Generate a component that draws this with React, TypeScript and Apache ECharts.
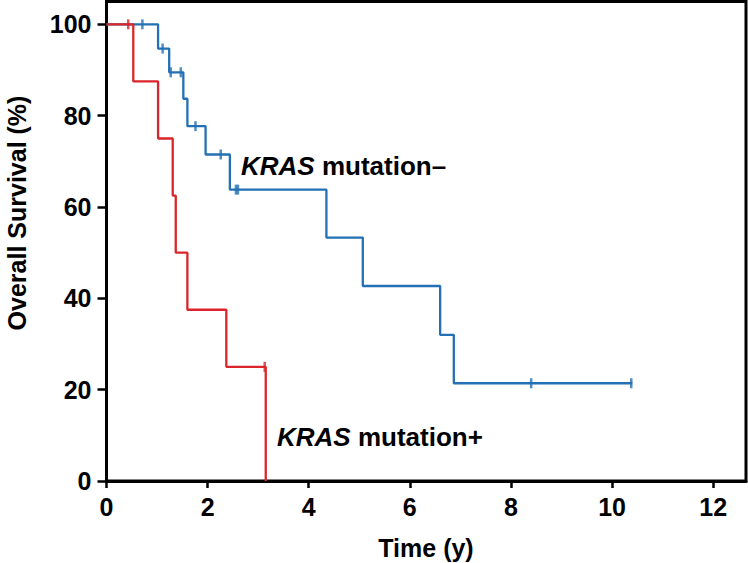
import React, { useEffect, useRef } from "react";
import * as echarts from "echarts";

// KRAS mutation− (blue) Kaplan–Meier steps
const blueTimes = [0, 1.02, 1.24, 1.52, 1.6, 1.96, 2.44, 4.35, 5.07, 6.6, 6.87, 10.4];
const blueSurvival = [100, 94.7, 89.5, 83.7, 77.7, 71.5, 63.8, 53.3, 42.7, 32.0, 21.4, 21.4];
const blueCensorTimes = [0.71, 1.11, 1.27, 1.47, 1.76, 2.26, 2.56, 2.6, 8.4, 10.38];
const blueCensorSurvival = [100, 94.7, 89.5, 89.5, 77.7, 71.5, 63.8, 63.8, 21.4, 21.4];

// KRAS mutation+ (red)
const redTimes = [0, 0.53, 1.02, 1.31, 1.37, 1.6, 2.37, 3.15];
const redSurvival = [100, 87.5, 75, 62.5, 50, 37.5, 25, 0];
const redCensorTimes = [0.43, 3.13];
const redCensorSurvival = [100, 25];

const xTicks = [0, 2, 4, 6, 8, 10, 12];
const yTicks = [0, 20, 40, 60, 80, 100];

const BLUE = "#2370b4";
const RED = "#d9252b";
const FONT = "Liberation Sans";

export default function App() {
  const ref = useRef<HTMLDivElement>(null);
  useEffect(() => {
    if (!ref.current) return;
    const chart = echarts.init(ref.current, null, { renderer: "svg" });
    const pairs = (xs: number[], ys: number[]) => xs.map((x, i) => [x, ys[i]]);
    const richStyles = {
      i: { fontFamily: FONT, fontSize: 26, fontWeight: "bold", fontStyle: "italic", fill: "#000" },
      b: { fontFamily: FONT, fontSize: 26, fontWeight: "bold", fill: "#000" },
    };
    chart.setOption({
      animation: false,
      backgroundColor: "#ffffff",
      grid: {
        left: 106.5,
        right: 2,
        top: 1.5,
        bottom: 82,
        show: true,
        borderColor: "#000",
        borderWidth: 3,
        outerBoundsMode: "none",
      },
      xAxis: {
        type: "value",
        min: 0,
        max: 12.65,
        interval: 2,
        splitLine: { show: false },
        axisLine: { show: true, lineStyle: { color: "#000", width: 3 } },
        axisTick: {
          show: true,
          length: 7,
          lineStyle: { color: "#000", width: 2.5 },
          customValues: xTicks,
        },
        axisLabel: {
          color: "#000",
          fontFamily: FONT,
          fontWeight: "bold",
          fontSize: 25,
          margin: 13,
          customValues: xTicks,
        },
      },
      yAxis: {
        type: "value",
        min: 0,
        max: 105,
        interval: 20,
        splitLine: { show: false },
        axisLine: { show: true, lineStyle: { color: "#000", width: 3 } },
        axisTick: {
          show: true,
          length: 9,
          lineStyle: { color: "#000", width: 2.5 },
          customValues: yTicks,
        },
        axisLabel: {
          color: "#000",
          fontFamily: FONT,
          fontWeight: "bold",
          fontSize: 25,
          margin: 15,
          customValues: yTicks,
        },
      },
      series: [
        {
          type: "line",
          step: "end",
          data: pairs(blueTimes, blueSurvival),
          showSymbol: false,
          lineStyle: { color: BLUE, width: 2.3 },
          z: 2,
        },
        {
          type: "scatter",
          data: pairs(blueCensorTimes, blueCensorSurvival),
          symbol: "rect",
          symbolSize: [2.5, 10],
          itemStyle: { color: BLUE },
          z: 3,
        },
        {
          type: "line",
          step: "end",
          data: pairs(redTimes, redSurvival),
          showSymbol: false,
          lineStyle: { color: RED, width: 2.3 },
          z: 4,
        },
        {
          type: "scatter",
          data: pairs(redCensorTimes, redCensorSurvival),
          symbol: "rect",
          symbolSize: [2.5, 10],
          itemStyle: { color: RED },
          z: 5,
        },
      ],
      graphic: [
        {
          type: "text",
          x: 17,
          y: 213,
          rotation: Math.PI / 2,
          style: {
            text: "Overall Survival (%)",
            fill: "#000",
            font: `bold 25px "${FONT}"`,
            align: "center",
            verticalAlign: "middle",
          },
        },
        {
          type: "text",
          x: 426,
          y: 548,
          style: {
            text: "Time (y)",
            fill: "#000",
            font: `bold 25px "${FONT}"`,
            align: "center",
            verticalAlign: "middle",
          },
        },
        {
          type: "text",
          x: 241,
          y: 166,
          style: {
            text: "{i|KRAS}{b| mutation–}",
            align: "left",
            verticalAlign: "middle",
            rich: richStyles,
          },
        },
        {
          type: "text",
          x: 277,
          y: 437,
          style: {
            text: "{i|KRAS}{b| mutation+}",
            align: "left",
            verticalAlign: "middle",
            rich: richStyles,
          },
        },
      ],
    });
    return () => chart.dispose();
  }, []);
  return (
    <div
      ref={ref}
      style={{ position: "fixed", left: 0, top: 0, width: 748, height: 563, background: "#fff" }}
    />
  );
}
